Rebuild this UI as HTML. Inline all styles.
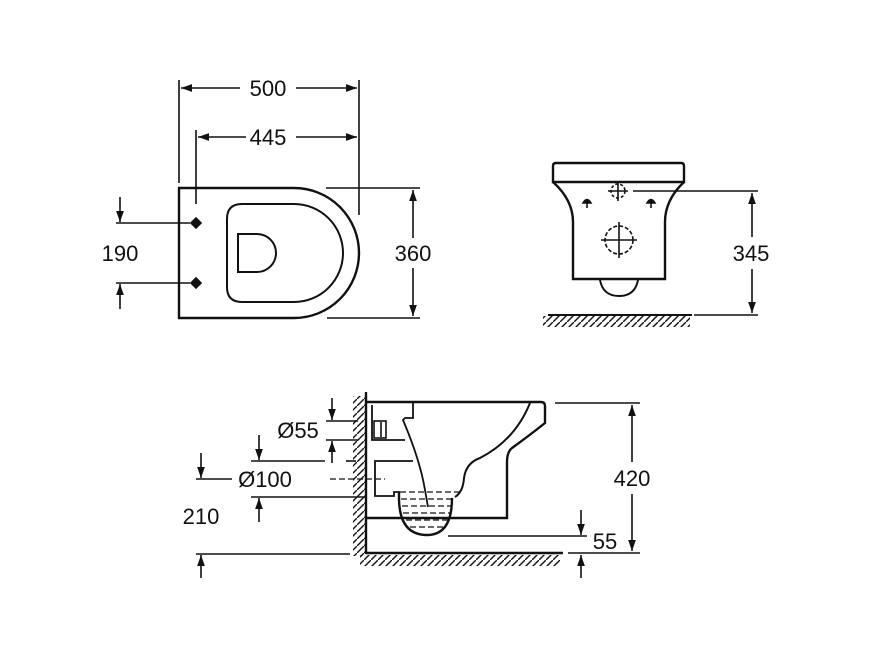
<!DOCTYPE html>
<html><head><meta charset="utf-8"><style>
html,body{margin:0;padding:0;background:#fff;}
svg{display:block}
text{font-family:"Liberation Sans",Arial,sans-serif;font-size:22px;fill:#111;}
</style></head><body>
<svg width="874" height="655" viewBox="0 0 874 655" xmlns="http://www.w3.org/2000/svg">
<defs>
<marker id="a" viewBox="0 0 10 10" refX="10" refY="5" markerWidth="11" markerHeight="11" markerUnits="userSpaceOnUse" orient="auto">
<path d="M0,1.5 L10,5 L0,8.5 Z" fill="#111"/></marker>
<pattern id="h" width="7" height="7" patternUnits="userSpaceOnUse">
<path d="M-1,8 L8,-1" stroke="#111" stroke-width="1.4"/></pattern>
</defs>
<g fill="none" stroke="#111" stroke-width="1.6">
<!-- TOP VIEW -->
<path d="M179,188 H294 A65,65 0 0 1 294,318 H179 Z" stroke-width="2.4"/>
<path d="M242,204 H294 A49,49 0 0 1 294,302 H242 Q227,302 227,287 V219 Q227,204 242,204 Z" stroke-width="2"/>
<path d="M238,234 H257 A19,19 0 0 1 257,272 H238 Z" stroke-width="2"/>
<line x1="179" y1="80" x2="179" y2="183"/>
<line x1="359" y1="80" x2="359" y2="215"/>
<line x1="196" y1="130" x2="196" y2="204"/>
<line x1="240" y1="88" x2="181" y2="88" marker-end="url(#a)"/>
<line x1="296" y1="88" x2="357" y2="88" marker-end="url(#a)"/>
<line x1="246" y1="137" x2="198" y2="137" marker-end="url(#a)"/>
<line x1="296" y1="137" x2="357" y2="137" marker-end="url(#a)"/>
<line x1="326" y1="188" x2="420" y2="188"/>
<line x1="327" y1="318" x2="420" y2="318"/>
<line x1="413" y1="238" x2="413" y2="190" marker-end="url(#a)"/>
<line x1="413" y1="268" x2="413" y2="316" marker-end="url(#a)"/>
<line x1="116" y1="223" x2="190" y2="223"/>
<line x1="116" y1="283" x2="190" y2="283"/>
<line x1="120" y1="197" x2="120" y2="222" marker-end="url(#a)"/>
<line x1="120" y1="309" x2="120" y2="284" marker-end="url(#a)"/>
<path d="M196,218 L201,223 L196,228 L191,223 Z M196,278 L201,283 L196,288 L191,283 Z" fill="#111"/>

<!-- FRONT VIEW -->
<path d="M556,163 H681 Q684,163 684,166 V182 H553 V166 Q553,163 556,163 Z" stroke-width="2.4"/>
<path d="M553,182 Q573,200 573,222 V279 H665 V222 Q665,200 684,182" stroke-width="2.4"/>
<path d="M600,280 Q603,296 619,296 Q635,296 638,280" stroke-width="2"/>
<circle cx="618" cy="191" r="7" stroke-dasharray="3,2"/>
<line x1="608" y1="191" x2="628" y2="191"/><line x1="618" y1="181" x2="618" y2="201"/>
<circle cx="619" cy="240" r="14" stroke-dasharray="4,2"/>
<line x1="601" y1="240" x2="637" y2="240"/><line x1="619" y1="222" x2="619" y2="258"/>
<path d="M583,203 Q587,196 591,203 Z M647,203 Q651,196 655,203 Z" fill="#111"/>
<line x1="587" y1="203" x2="587" y2="208"/><line x1="651" y1="203" x2="651" y2="208"/>
<line x1="633" y1="191" x2="758" y2="191"/>
<line x1="694" y1="315" x2="758" y2="315"/>
<line x1="548" y1="315" x2="692" y2="315" stroke-width="2"/>
<rect x="543" y="316" width="147" height="11" fill="url(#h)" stroke="none"/>
<line x1="752" y1="237" x2="752" y2="193" marker-end="url(#a)"/>
<line x1="752" y1="269" x2="752" y2="313" marker-end="url(#a)"/>

<!-- SIDE VIEW -->
<line x1="366" y1="392" x2="366" y2="554" stroke-width="2.4"/>
<rect x="353" y="396" width="12" height="160" fill="url(#h)" stroke="none"/>
<line x1="366" y1="553" x2="563" y2="553" stroke-width="2.4"/>
<rect x="360" y="555" width="200" height="11" fill="url(#h)" stroke="none"/>
<path d="M366,402 H541 Q545,402 545,406 V423 Q530,435 512,448 Q507,452 507,462 V518 H366" stroke-width="2.4"/>
<path d="M530,403 Q515,440 480,458 Q466,463 464,478 Q463,492 455,497" stroke-width="2"/>
<path d="M399,492 V500 Q400,535 427,535 Q452,535 452,498" stroke-width="2.4"/>
<path d="M413,403 V418 H405 L403,420 Q420,460 425,490 L428,507" stroke-width="1.8"/>
<path d="M372,405 V440 H405" stroke-width="1.8"/>
<rect x="374" y="421" width="12" height="17" stroke-width="1.6"/>
<line x1="381" y1="422" x2="381" y2="437"/>
<path d="M413,461 H375 V496 H394 V492 H400" stroke-width="1.8"/>
<g stroke-dasharray="6,3" stroke-width="1.3">
<line x1="400" y1="492" x2="460" y2="492"/>
<line x1="401" y1="499" x2="452" y2="499"/>
<line x1="402" y1="506" x2="451" y2="506"/>
<line x1="403" y1="513" x2="450" y2="513"/>
<line x1="406" y1="520" x2="448" y2="520"/>
<line x1="410" y1="527" x2="444" y2="527"/>
<line x1="330" y1="479" x2="385" y2="479"/>
</g>
<line x1="326" y1="421" x2="358" y2="421"/>
<line x1="326" y1="440" x2="358" y2="440"/>
<line x1="332" y1="398" x2="332" y2="420" marker-end="url(#a)"/>
<line x1="332" y1="463" x2="332" y2="441" marker-end="url(#a)"/>
<line x1="251" y1="461" x2="325" y2="461"/>
<line x1="346" y1="461" x2="356" y2="461"/>
<line x1="251" y1="497" x2="366" y2="497"/>
<line x1="259" y1="435" x2="259" y2="460" marker-end="url(#a)"/>
<line x1="259" y1="522" x2="259" y2="498" marker-end="url(#a)"/>
<line x1="196" y1="479" x2="232" y2="479"/>
<line x1="201" y1="453" x2="201" y2="478" marker-end="url(#a)"/>
<line x1="196" y1="554" x2="350" y2="554"/>
<line x1="201" y1="578" x2="201" y2="555" marker-end="url(#a)"/>
<line x1="555" y1="403" x2="640" y2="403"/>
<line x1="568" y1="553" x2="640" y2="553"/>
<line x1="632" y1="462" x2="632" y2="405" marker-end="url(#a)"/>
<line x1="632" y1="494" x2="632" y2="551" marker-end="url(#a)"/>
<line x1="448" y1="536" x2="587" y2="536"/>
<line x1="581" y1="510" x2="581" y2="535" marker-end="url(#a)"/>
<line x1="581" y1="578" x2="581" y2="555" marker-end="url(#a)"/>
</g>
<g text-anchor="middle">
<text x="268" y="96">500</text>
<text x="268" y="145">445</text>
<text x="413" y="261">360</text>
<text x="120" y="261">190</text>
<text x="751" y="261">345</text>
<text x="632" y="486">420</text>
<text x="298" y="438">Ø55</text>
<text x="265" y="487">Ø100</text>
<text x="201" y="524">210</text>
<text x="605" y="549">55</text>
</g>
</svg>
</body></html>
